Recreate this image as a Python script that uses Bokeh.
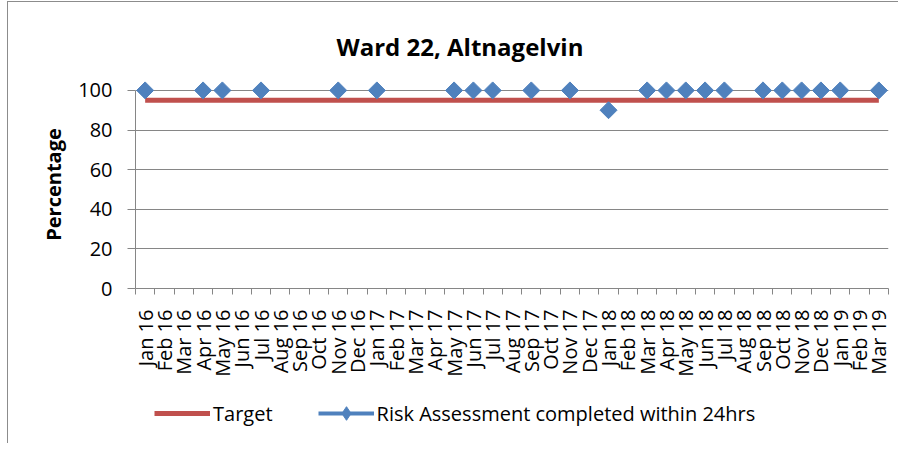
import math
from bokeh.plotting import figure
from bokeh.layouts import column
from bokeh.models import (Range1d, FixedTicker, ColumnDataSource, Legend, LegendItem, Title)
from bokeh.embed import file_html
from bokeh.resources import INLINE

months = ["Jan 16", "Feb 16", "Mar 16", "Apr 16", "May 16", "Jun 16", "Jul 16", "Aug 16",
          "Sep 16", "Oct 16", "Nov 16", "Dec 16", "Jan 17", "Feb 17", "Mar 17", "Apr 17",
          "May 17", "Jun 17", "Jul 17", "Aug 17", "Sep 17", "Oct 17", "Nov 17", "Dec 17",
          "Jan 18", "Feb 18", "Mar 18", "Apr 18", "May 18", "Jun 18", "Jul 18", "Aug 18",
          "Sep 18", "Oct 18", "Nov 18", "Dec 18", "Jan 19", "Feb 19", "Mar 19"]
nan = float("nan")
risk = [100, nan, nan, 100, 100, nan, 100, nan, nan, nan, 100, nan,
        100, nan, nan, nan, 100, 100, 100, nan, 100, nan, 100, nan,
        90, nan, 100, 100, 100, 100, 100, nan, 100, 100, 100, 100, 100, nan, 100]
target = [95] * len(months)
y_ticks = [0, 20, 40, 60, 80, 100]
series_names = ["Target", "Risk Assessment completed within 24hrs"]

FONT = "Open Sans"
GRID = "#868686"
RED = "#C0504D"
BLUE = "#4F81BD"

xs = list(range(len(months)))
src = ColumnDataSource(dict(x=xs, risk=risk, target=target))

p = figure(width=890, height=378, output_backend="svg", toolbar_location=None,
           x_range=Range1d(-0.5, len(months) - 0.5), y_range=Range1d(0, 105),
           min_border_left=127, min_border_right=10, min_border_top=78, min_border_bottom=92)
p.outline_line_color = None
p.background_fill_color = "white"
p.border_fill_color = "white"

p.title = Title(text="Ward 22, Altnagelvin", align="left", text_font=FONT,
                text_font_size="24px", text_font_style="bold", text_color="black",
                offset=201, standoff=36)

# grid
p.xgrid.visible = False
p.ygrid.ticker = FixedTicker(ticks=y_ticks)
p.ygrid.grid_line_color = GRID
p.ygrid.grid_line_width = 1

# y axis
p.yaxis.ticker = FixedTicker(ticks=y_ticks)
p.yaxis.bounds = (0, 100)
p.yaxis.axis_line_color = GRID
p.yaxis.major_tick_line_color = GRID
p.yaxis.major_tick_out = 8
p.yaxis.major_tick_in = 0
p.yaxis.minor_tick_line_color = None
p.yaxis.major_label_text_font = FONT
p.yaxis.major_label_text_font_size = "20px"
p.yaxis.major_label_text_color = "black"
p.yaxis.major_label_standoff = 15
p.yaxis.axis_label = "Percentage"
p.yaxis.axis_label_text_font = FONT
p.yaxis.axis_label_text_font_size = "20px"
p.yaxis.axis_label_text_font_style = "bold"
p.yaxis.axis_label_text_color = "black"
p.yaxis.axis_label_standoff = 8

# x axis
p.xaxis.ticker = FixedTicker(ticks=xs, minor_ticks=[i - 0.5 for i in range(len(months) + 1)])
p.xaxis.major_label_overrides = {i: m for i, m in enumerate(months)}
p.xaxis.major_label_orientation = math.pi / 2
p.xaxis.axis_line_color = GRID
p.xaxis.major_tick_line_color = None
p.xaxis.major_tick_out = 0
p.xaxis.minor_tick_line_color = GRID
p.xaxis.minor_tick_out = 6
p.xaxis.minor_tick_in = 0
p.xaxis.major_label_text_font = FONT
p.xaxis.major_label_text_font_size = "20px"
p.xaxis.major_label_text_color = "black"
p.xaxis.major_label_standoff = 15

p.line("x", "target", source=src, line_color=RED, line_width=5)
p.scatter("x", "risk", source=src, marker="square", angle=math.pi / 4, size=12,
          fill_color=BLUE, line_color=BLUE)

# legend strip below the chart
lf = figure(width=890, height=63, output_backend="svg", toolbar_location=None,
            x_range=Range1d(0, 1), y_range=Range1d(0, 1),
            min_border=0, min_border_left=0, min_border_right=0,
            min_border_top=0, min_border_bottom=0)
lf.axis.visible = False
lf.grid.visible = False
lf.outline_line_color = None
lf.border_fill_color = "white"
l_t = lf.line(x=[nan], y=[nan], line_color=RED, line_width=5)
l_l = lf.line(x=[nan], y=[nan], line_color=BLUE, line_width=4)
l_m = lf.scatter(x=[nan], y=[nan], marker="diamond", size=12,
                 fill_color=BLUE, line_color=BLUE)
legend = Legend(items=[LegendItem(label=series_names[0], renderers=[l_t]),
                       LegendItem(label=series_names[1], renderers=[l_l, l_m])],
                orientation="horizontal", location=(19, 13),
                label_text_font=FONT, label_text_font_size="20px", label_text_color="black",
                glyph_width=56, glyph_height=34, label_standoff=3, spacing=45,
                border_line_color=None, background_fill_alpha=0, padding=0, margin=0)
lf.add_layout(legend)

layout = column(p, lf, spacing=0)
layout.styles = {"border-left": "1px solid #8c8c8c", "border-top": "1px solid #8c8c8c",
                 "margin-left": "7px", "margin-top": "1px"}
open("out.html", "w").write(file_html(layout, INLINE))
